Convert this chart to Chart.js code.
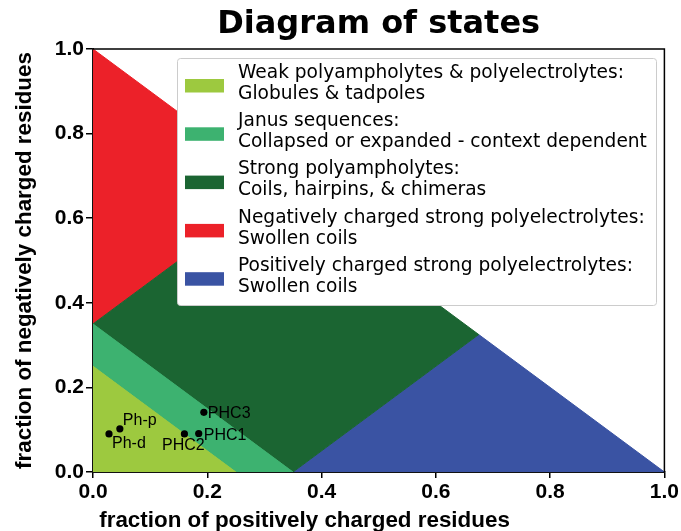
<!DOCTYPE html>
<html>
<head>
<meta charset="utf-8">
<script src="https://cdn.jsdelivr.net/npm/chart.js@4/dist/chart.umd.min.js"></script>
<style>
  html, body { margin: 0; padding: 0; background: #ffffff; }
  #wrap { width: 681px; height: 531px; }
</style>
</head>
<body>
<div id="wrap"><canvas id="chart" width="681" height="531"></canvas></div>
<script>
// Region boundaries in (fraction positive, fraction negative) coordinates
const weakRegion     = [[0, 0], [0.25, 0], [0, 0.25]];
const janusRegion    = [[0, 0.25], [0.25, 0], [0.35, 0], [0, 0.35]];
const strongRegion   = [[0, 0.35], [0.35, 0], [0.675, 0.325], [0.325, 0.675]];
const negativeRegion = [[0, 0.35], [0.325, 0.675], [0, 1]];
const positiveRegion = [[0.35, 0], [1, 0], [0.675, 0.325]];

const regionNames = [
  'Weak polyampholytes & polyelectrolytes:\nGlobules & tadpoles',
  'Janus sequences:\nCollapsed or expanded - context dependent',
  'Strong polyampholytes:\nCoils, hairpins, & chimeras',
  'Negatively charged strong polyelectrolytes:\nSwollen coils',
  'Positively charged strong polyelectrolytes:\nSwollen coils'
];
const regionColors = ['#9dc93f', '#3db270', '#1b6532', '#ec2129', '#3a53a3'];

// Sequences placed on the diagram
const seqNames = ['Ph-d', 'Ph-p', 'PHC2', 'PHC1', 'PHC3'];
const seqFplus  = [0.028, 0.047, 0.160, 0.185, 0.194];
const seqFminus = [0.090, 0.102, 0.090, 0.091, 0.141];

const tickValues = [0, 0.2, 0.4, 0.6, 0.8, 1.0];

// label placement relative to each marker (px): [dx, dy, align]
const seqLabelStyle = {
  'Ph-d': [3, 10, 'left'],
  'Ph-p': [3, -8, 'left'],
  'PHC2': [-1, 12, 'center'],
  'PHC1': [5, 2, 'left'],
  'PHC3': [4, 1, 'left']
};

const regions = [weakRegion, janusRegion, strongRegion, negativeRegion, positiveRegion];
const toPts = arr => arr.map(([x, y]) => ({ x, y }));

const datasets = regions.map((r, i) => {
  const pts = toPts(r);
  pts.push({ ...pts[0] });
  return {
    type: 'line',
    label: regionNames[i],
    data: pts,
    backgroundColor: regionColors[i],
    borderColor: regionColors[i],
    borderWidth: 1,
    pointRadius: 0,
    pointHoverRadius: 0,
    fill: 'shape',
    tension: 0,
    order: 1,
    isRegion: true
  };
});

datasets.push({
  type: 'scatter',
  label: 'sequences',
  data: seqNames.map((n, i) => ({ x: seqFplus[i], y: seqFminus[i], name: n })),
  backgroundColor: '#000000',
  borderColor: '#000000',
  borderWidth: 0,
  pointRadius: 3.6,
  pointHoverRadius: 3.6,
  order: 0,
  isRegion: false
});

const frameAndTitle = {
  id: 'frameAndTitle',
  afterDatasetsDraw(chart) {
    const { ctx, chartArea: a } = chart;
    ctx.save();
    // top and right frame lines
    ctx.strokeStyle = '#000000';
    ctx.lineWidth = 1.5;
    ctx.beginPath();
    ctx.moveTo(a.left, a.top);
    ctx.lineTo(a.right, a.top);
    ctx.lineTo(a.right, a.bottom);
    ctx.stroke();

    // sequence labels
    const idx = chart.data.datasets.findIndex(d => !d.isRegion);
    const meta = chart.getDatasetMeta(idx);
    ctx.font = '16px "Liberation Sans", Arial, sans-serif';
    ctx.fillStyle = '#000000';
    ctx.textBaseline = 'middle';
    meta.data.forEach((pt, i) => {
      const name = chart.data.datasets[idx].data[i].name;
      const [dx, dy, align] = seqLabelStyle[name];
      ctx.textAlign = align;
      ctx.fillText(name, pt.x + dx, pt.y + dy);
    });

    // title
    ctx.font = 'bold 32px "DejaVu Sans", sans-serif';
    ctx.textAlign = 'center';
    ctx.textBaseline = 'alphabetic';
    ctx.fillText('Diagram of states', (a.left + a.right) / 2, 33);
    ctx.restore();
  }
};

const regionLegend = {
  id: 'regionLegend',
  afterDraw(chart) {
    const { ctx } = chart;
    const box = { x: 177.5, y: 58.5, w: 479, h: 247 };
    ctx.save();
    ctx.fillStyle = '#ffffff';
    ctx.strokeStyle = '#cccccc';
    ctx.lineWidth = 1;
    ctx.beginPath();
    ctx.roundRect(box.x, box.y, box.w, box.h, 3);
    ctx.fill();
    ctx.stroke();

    ctx.font = '18.6px "DejaVu Sans", sans-serif';
    ctx.textAlign = 'left';
    ctx.textBaseline = 'middle';
    const items = chart.data.datasets.filter(d => d.isRegion);
    items.forEach((d, i) => {
      const y0 = 73 + i * 48.3;
      ctx.fillStyle = d.backgroundColor;
      ctx.fillRect(185, y0 + 6, 39, 13.5);
      ctx.fillStyle = '#000000';
      d.label.split('\n').forEach((line, j) => {
        ctx.fillText(line, 238, y0 + j * 20.8);
      });
    });
    ctx.restore();
  }
};

const tickFont = { family: '"Liberation Sans", Arial, sans-serif', size: 21, weight: 'bold' };
const titleFont = { family: '"Liberation Sans", Arial, sans-serif', size: 22.4, weight: 'bold' };

new Chart(document.getElementById('chart'), {
  type: 'scatter',
  data: { datasets },
  options: {
    responsive: false,
    animation: false,
    events: [],
    layout: { padding: { top: 49, right: 16, left: 0, bottom: 0 } },
    plugins: {
      legend: { display: false },
      tooltip: { enabled: false },
      title: { display: false }
    },
    scales: {
      x: {
        type: 'linear',
        min: 0, max: 1,
        afterBuildTicks: s => { s.ticks = tickValues.map(v => ({ value: v })); },
        afterFit: s => { s.height = 59; },
        ticks: {
          callback: v => Number(v).toFixed(1),
          font: tickFont, color: '#000000', padding: 2, maxRotation: 0
        },
        grid: { drawOnChartArea: false, tickLength: 6, color: '#000000', lineWidth: 1.5 },
        border: { color: '#111111', width: 2 },
        title: {
          display: true, text: ' fraction of positively charged residues',
          align: 'start', font: titleFont, color: '#000000',
          padding: { top: 0, bottom: -3 }
        }
      },
      y: {
        type: 'linear',
        min: 0, max: 1,
        afterBuildTicks: s => { s.ticks = tickValues.map(v => ({ value: v })); },
        afterFit: s => { s.width = 93; },
        ticks: {
          callback: v => Number(v).toFixed(1),
          font: tickFont, color: '#000000', padding: 2
        },
        grid: { drawOnChartArea: false, tickLength: 7, color: '#000000', lineWidth: 1.5 },
        border: { color: '#111111', width: 2 },
        title: {
          display: true, text: 'fraction of negatively charged residues',
          font: titleFont, color: '#000000',
          padding: { top: 11, bottom: 0 }
        }
      }
    }
  },
  plugins: [frameAndTitle, regionLegend]
});
</script>
</body>
</html>
